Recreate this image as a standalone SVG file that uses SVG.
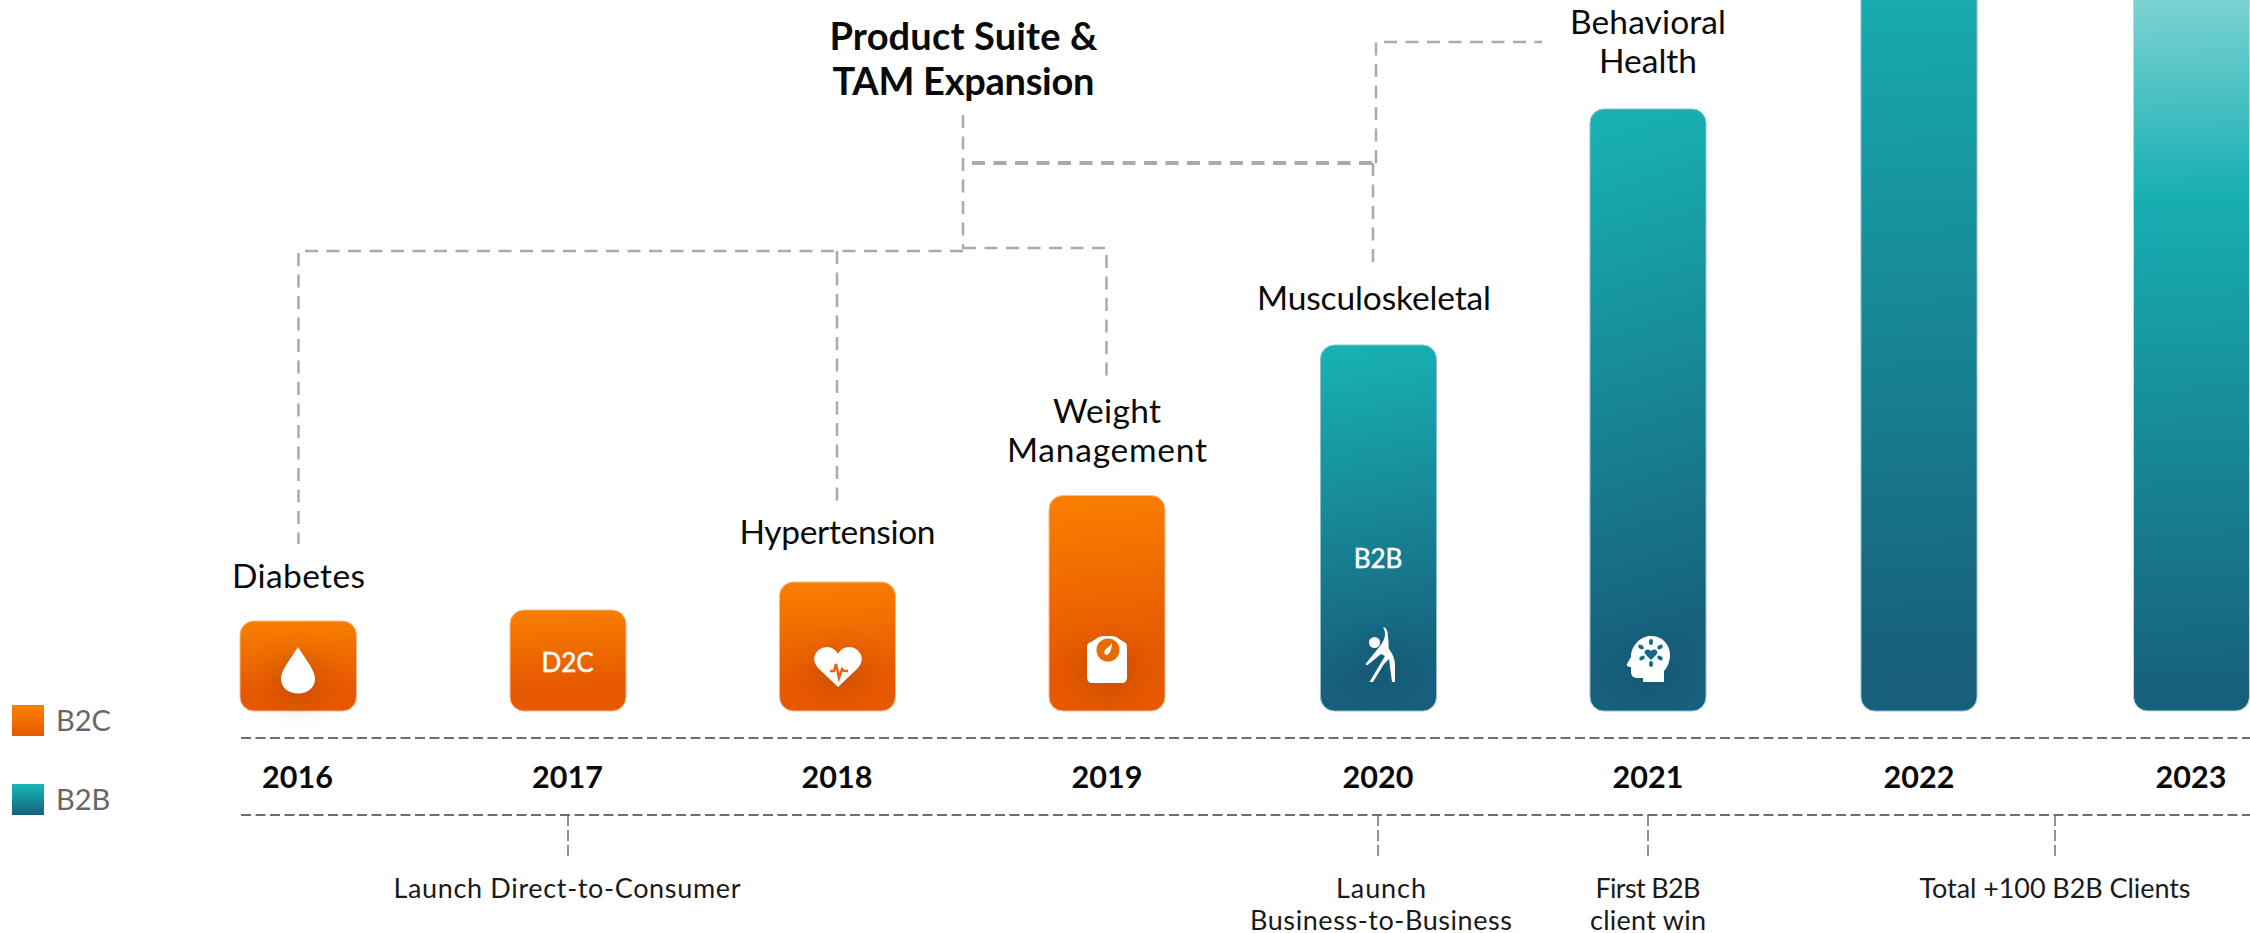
<svg xmlns="http://www.w3.org/2000/svg" width="2250" height="933" viewBox="0 0 2250 933">
<style>
text{font-family:"Lato","Liberation Sans",sans-serif;text-anchor:middle}
.bar{stroke-width:1}
.o{fill:url(#orange);stroke:#f9b98a}
.t{fill:url(#teal);stroke:#8fc0cc}
.title{font-size:38px;font-weight:700;fill:#0a0a0a}
.lab{font-size:33.500px;font-weight:400;fill:#0a0a0a}
.yr{font-size:30.500px;font-weight:700;fill:#0a0a0a}
.note{font-size:27px;fill:#1a1a1a}
.leg{font-size:29px;fill:#666;text-anchor:start}
.in{font-size:26px;font-weight:400;fill:#fff;stroke:#fff;stroke-width:.5}
.c{fill:none;stroke:#aaa;stroke-width:2.5;stroke-dasharray:13 8.5}
.axis{fill:none;stroke:#6e6e6e;stroke-width:2;stroke-dasharray:10 4.5}
.drop{fill:none;stroke:#6e6e6e;stroke-width:1.5;stroke-dasharray:11 4}
.ic{fill:#fff}
.sh{filter:url(#blur);opacity:.22;fill:#7a2f00}
.shb{filter:url(#blur);opacity:.18;fill:#0d3f5a}
</style>
<defs>
<linearGradient id="orange" x1="0.47" y1="0" x2="0.53" y2="1"><stop offset="0" stop-color="#f97e00"/><stop offset=".75" stop-color="#e65900"/><stop offset="1" stop-color="#e65900"/></linearGradient>
<linearGradient id="teal" x1="0.47" y1="0" x2="0.53" y2="1"><stop offset="0" stop-color="#17b1b3"/><stop offset=".9" stop-color="#175f7c"/><stop offset="1" stop-color="#175f7c"/></linearGradient>
<linearGradient id="teal22" gradientUnits="userSpaceOnUse" x1="1905" y1="-60" x2="1933" y2="670"><stop offset="0" stop-color="#17b1b3"/><stop offset="1" stop-color="#175f7c"/></linearGradient>
<linearGradient id="teal23" gradientUnits="userSpaceOnUse" x1="2180" y1="-10" x2="2204" y2="700"><stop offset="0" stop-color="#80d4d4"/><stop offset=".29" stop-color="#17afb3"/><stop offset="1" stop-color="#175f7c"/></linearGradient>
<linearGradient id="legO" x1="0" y1="0" x2="0" y2="1"><stop offset=".1" stop-color="#f97e00"/><stop offset="1" stop-color="#e65900"/></linearGradient>
<linearGradient id="legT" x1="0" y1="0" x2="0" y2="1"><stop offset=".1" stop-color="#17b1b3"/><stop offset="1" stop-color="#175f7c"/></linearGradient>
<filter id="blur" x="-60%" y="-60%" width="220%" height="220%"><feGaussianBlur stdDeviation="12"/></filter>
</defs>

<g id="connectors">
<path class="c" d="M963 115V249"/>
<path class="c" d="M963 251H298.500V544"/>
<path class="c" d="M837 251V505"/>
<path class="c" d="M963 248H1106.500V376"/>
<path class="c" style="stroke-width:4" d="M972 163H1375"/>
<path class="c" d="M1376 163V42H1542"/>
<path class="c" d="M1373 163V268"/>
<path class="axis" d="M241 738H2250"/>
<path class="axis" d="M241 815H2250"/>
<path class="drop" d="M568 815V857"/>
<path class="drop" d="M1378 815V857"/>
<path class="drop" d="M1648 815V857"/>
<path class="drop" d="M2055 815V857"/>
</g>

<g id="title"><text class="title" x="963.500" y="50" textLength="268">Product Suite &amp;</text><text class="title" x="963.500" y="95" textLength="262">TAM Expansion</text></g>

<g id="bar-2016">
<rect class="bar o" x="240" y="621" width="116.500" height="90" rx="14"/>
<ellipse class="sh" cx="298" cy="680" rx="26" ry="26"/>
<path class="ic" d="M298 647C306 660 315 670 315 679C315 688 307 693.500 298 693.500C289 693.500 281 688 281 679C281 670 290 660 298 647Z"/>
<text class="lab" x="298.500" y="588" textLength="133">Diabetes</text>
</g>
<g id="bar-2017">
<rect class="bar o" x="510" y="610" width="116" height="101" rx="14"/>
<text class="in" x="567.500" y="672">D2C</text>
</g>
<g id="bar-2018">
<rect class="bar o" x="779.500" y="582" width="116" height="129" rx="14"/>
<ellipse class="sh" cx="838" cy="670" rx="28" ry="22"/>
<path class="ic" d="M838 687L819 669C813 663 814 657 815 655C817 650 822 647 827 647C832 647 836 650 838 654C840 650 844 647 849 647C854 647 859 650 861 655C862 657 863 663 857 669Z"/>
<path d="M830 671H834L836 664L839 678L842 669L844 671H848" fill="none" stroke="#e8620a" stroke-width="2.500"/>
<text class="lab" x="837.500" y="544" textLength="196">Hypertension</text>
</g>
<g id="bar-2019">
<rect class="bar o" x="1049" y="495.500" width="116" height="215.500" rx="14"/>
<ellipse class="sh" cx="1107" cy="670" rx="30" ry="28"/>
<path class="ic" d="M1091 642C1094 640 1095 640 1097 638C1100 636 1104 636 1107 636C1111 636 1115 636 1118 638C1120 640 1121 640 1124 642C1127 643 1127 646 1127 648V677C1127 681 1125 683 1122 683H1092C1089 683 1087 681 1087 677V648C1087 646 1087 643 1091 642Z"/>
<circle cx="1108" cy="650" r="11.500" fill="#e76b02"/>
<path class="ic" d="M1112 643C1112 648 1110 654 1107 655C1104 655 1104 652 1105 650C1107 648 1110 646 1112 643Z"/>
<text class="lab" x="1107" y="423" textLength="108">Weight</text><text class="lab" x="1107" y="462" textLength="200">Management</text>
</g>
<g id="bar-2020">
<rect class="bar t" x="1320.500" y="345" width="116" height="366" rx="14"/>
<ellipse class="shb" cx="1380" cy="660" rx="26" ry="28"/>
<text class="in" x="1378" y="568">B2B</text>
<circle class="ic" cx="1374.500" cy="642.500" r="5.500"/>
<path class="ic" d="M1383 627C1387 628 1388 632 1388 637C1389 642 1388 646 1389 649C1393 654 1395 660 1395 665V682H1392L1389 659L1384 664L1373 682H1369.500L1385 656L1381 654L1367 665.500L1365.500 664L1376 651C1381 645 1385 640 1385 634C1385 631 1384 629 1383 627Z"/>
<text class="lab" x="1374" y="310" textLength="234">Musculoskeletal</text>
</g>
<g id="bar-2021">
<rect class="bar t" x="1590" y="109" width="116" height="602" rx="14"/>
<ellipse class="shb" cx="1650" cy="668" rx="28" ry="26"/>
<path class="ic" d="M1651 636C1662 636 1670 644 1670 655C1670 662 1667 668 1664 671V682H1643V678H1637C1633 678 1631 675 1631 672V667C1628 667 1626 666 1627 664L1631 657C1631 646 1640 636 1651 636Z"/>
<g fill="#186b85">
<path d="M1651 660L1646 655C1644 653 1644 651 1646 650C1648 649 1650 650 1651 651C1652 650 1654 649 1656 650C1658 651 1658 653 1656 655Z"/>
<ellipse cx="1651" cy="642" rx="2" ry="3"/><ellipse cx="1651" cy="664" rx="2" ry="3"/>
<ellipse cx="1641" cy="647" rx="3" ry="2" transform="rotate(30 1641 647)"/><ellipse cx="1660" cy="647" rx="3" ry="2" transform="rotate(-30 1660 647)"/>
<ellipse cx="1642" cy="658" rx="3" ry="2" transform="rotate(-30 1642 658)"/><ellipse cx="1660" cy="658" rx="3" ry="2" transform="rotate(30 1660 658)"/>
</g>
<text class="lab" x="1648" y="34" textLength="156">Behavioral</text><text class="lab" x="1648" y="73" textLength="98">Health</text>
</g>
<g id="bar-2022"><rect class="bar" fill="url(#teal22)" stroke="#8fc0cc" x="1861" y="-30" width="116" height="741" rx="14"/></g>
<g id="bar-2023"><rect class="bar" fill="url(#teal23)" stroke="#b5dfe2" x="2133.500" y="-30" width="116" height="741" rx="14"/></g>

<g id="years">
<text class="yr" x="297.500" y="788">2016</text>
<text class="yr" x="567.500" y="788">2017</text>
<text class="yr" x="837" y="788">2018</text>
<text class="yr" x="1107" y="788">2019</text>
<text class="yr" x="1378" y="788">2020</text>
<text class="yr" x="1648" y="788">2021</text>
<text class="yr" x="1919" y="788">2022</text>
<text class="yr" x="2191" y="788">2023</text>
</g>
<g id="notes">
<text class="note" x="567" y="898" textLength="347">Launch Direct-to-Consumer</text>
<text class="note" x="1381" y="898" textLength="90">Launch</text><text class="note" x="1381" y="930" textLength="262">Business-to-Business</text>
<text class="note" x="1648" y="898" textLength="105">First B2B</text><text class="note" x="1648" y="930" textLength="116">client win</text>
<text class="note" x="2055" y="898" textLength="271">Total +100 B2B Clients</text>
</g>
<g id="legend">
<rect x="12" y="705" width="32" height="31" fill="url(#legO)"/><text class="leg" x="56" y="731">B2C</text>
<rect x="12" y="784" width="32" height="31" fill="url(#legT)"/><text class="leg" x="56" y="810">B2B</text>
</g>
</svg>
